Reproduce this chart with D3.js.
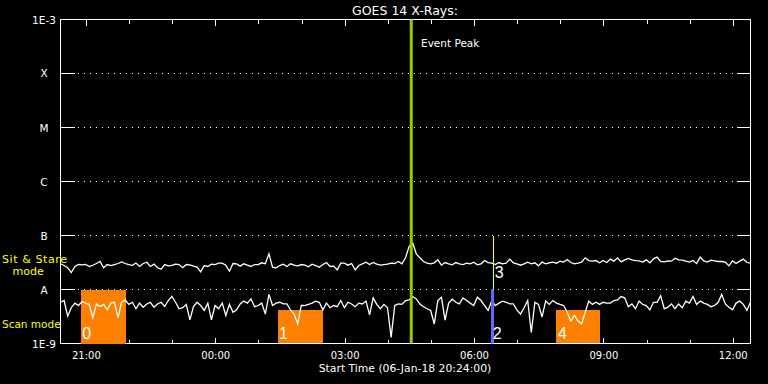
<!DOCTYPE html>
<html><head><meta charset="utf-8">
<script src="https://cdn.jsdelivr.net/npm/d3@7"></script>
<style>html,body{margin:0;padding:0;background:#000;} svg{display:block;}</style>
</head><body>
<svg id="c" width="768" height="384"></svg>
<script>
// ---- data ----
const chartTitle = "GOES 14 X-Rays:";
const xAxisTitle = "Start Time (06-Jan-18 20:24:00)";
const startTime = "2018-01-06T20:24:00Z";
const endTime = "2018-01-07T12:24:00Z";
const sampleMinutes = 5;
// X-ray flux in units of 1e-9 W/m^2, 5-minute samples from start time
const sitStare = [
30, 27.8, 25.3, 20.6, 26.7, 29.0, 28.6, 29.0, 26.7, 28.1,
30.3, 33.0, 25.3, 29.0, 27.8, 29.0, 30.3, 32.5, 30.3, 29.0,
28.1, 31.0, 26.7, 30.3, 32.0, 26.7, 29.5, 25.3, 23.8, 29.0,
27.4, 28.1, 29.5, 29.0, 25.3, 29.0, 28.6, 27.0, 25.9, 21.2,
27.8, 26.7, 29.5, 29.0, 30.7, 30.7, 28.1, 21.8, 30.3,
29.9, 27.1, 29.9, 28.2, 26.7, 29.0, 29.0, 31.2, 29.9, 45.8,
25.9, 25.2, 27.8, 29.5, 26.7, 29.9, 28.2, 27.4, 29.0, 28.2,
26.3, 29.5, 27.8, 25.9, 29.0, 31.6, 26.7, 27.1, 23.1, 30.7,
30.7, 28.2, 30.3, 23.1, 27.8, 29.9, 32.1, 29.0, 31.6, 29.5,
28.2, 29.0, 29.5, 30.7, 30.3, 33.0, 29.9, 38.6,
62.5, 73, 45.8, 38.6, 33.0, 30.7, 29.9, 31.2, 35.5, 28.2,
31.6, 29.9, 28.6, 31.6, 29.9, 29.0, 30.7, 29.9, 32.1, 28.6,
29.9, 34.4, 31.6, 30.7, 29.0, 31.6, 29.9, 30.7, 36.5, 31.2,
29.9, 28.2, 29.9, 32.1, 29.9, 31.2, 27.4, 32.1, 29.9, 31.2,
32.1, 30.7, 33.5, 32.1, 35.9, 31.6, 29.9, 30.7,
32.1, 38.6, 34.4, 33.5, 34.4, 31.2, 34.4, 31.6, 36.5, 33.5,
38.6, 32.5, 35.4, 37.5, 35.4, 34.4, 33.9, 32.1, 35.4, 31.2,
37.0, 39.7, 33.0, 32.5, 33.9, 33.5, 38.0, 35.4, 34.9, 33.5,
32.1, 34.4, 30.3, 39.7, 33.9, 32.1, 34.9, 33.9, 33.0, 33.0,
32.1, 27.4, 33.9, 30.3, 33.5, 36.5, 31.6, 30.7
];
const scanMode = [
5.8, 6.25, 3.2, 4.6, 5.6, 5.05, 6.0, 5.6, 5.3, 3.0,
5.4, 4.85, 5.3, 4.2, 5.6, 5.8, 3.0, 5.8, 6.4, 5.3,
5.8, 4.4, 5.6, 4.7, 5.4, 5.8, 4.7, 5.4, 5.8, 4.85,
6.25, 7.5, 5.8, 4.4, 4.6, 5.3, 2.75, 4.85, 5.8, 5.05,
4.1, 5.6, 2.75, 5.05, 4.4, 5.6, 3.3, 5.3, 3.8,
4.2, 5.4, 6.1, 5.6, 6.7, 4.8, 5.05, 5.6, 3.5, 8.1,
5.05, 5.6, 5.8, 5.4, 5.4, 4.2, 3.5, 2.3, 5.05, 5.05,
5.3, 5.6, 6.1, 5.8, 4.2, 5.6, 4.6, 5.05, 4.8, 6.25,
4.6, 5.8, 5.4, 4.8, 5.6, 5.4, 6.1, 3.4, 7.0, 5.3,
4.4, 5.3, 4.6, 1.3, 5.05, 5.4, 5.3, 6.25,
6.4, 7.4, 6.7, 5.4, 4.8, 4.4, 4.1, 2.3, 6.25, 7.2,
2.7, 5.6, 6.6, 5.8, 5.4, 7.0, 6.25, 5.6, 5.05, 7.2,
6.25, 5.05, 4.1, 6.25, 5.05, 5.6, 6.1, 5.8, 5.4, 5.4,
4.2, 3.5, 4.6, 6.25, 1.6, 5.8, 5.3, 3.1, 6.1, 5.3,
6.25, 5.6, 5.3, 5.05, 3.8, 2.6, 3.3, 2.6,
2.3, 3.8, 6.1, 5.3, 5.8, 5.3, 5.8, 5.6, 5.6, 6.25,
6.4, 7.4, 7.0, 4.8, 5.4, 4.4, 6.1, 5.3, 5.05, 4.2,
5.8, 5.8, 7.7, 4.4, 4.7, 5.4, 4.4, 5.4, 4.6, 6.1,
5.6, 7.4, 5.3, 6.1, 5.6, 5.3, 4.8, 5.05, 5.8, 8.1,
5.4, 4.7, 4.2, 5.6, 6.1, 5.3, 4.1, 5.8
];
const levelValues = [1e-9, 1e-8, 1e-7, 1e-6, 1e-5, 1e-4, 1e-3];
const levelLabels = ["1E-9", "A", "B", "C", "M", "X", "1E-3"];
const scanLabels = ["0", "1", "4"];
const scanStarts = ["2018-01-06T20:52:00Z", "2018-01-07T01:26:00Z", "2018-01-07T07:54:00Z"];
const scanEnds = ["2018-01-06T21:54:00Z", "2018-01-07T02:29:00Z", "2018-01-07T08:55:00Z"];
const scanTops = [1e-8, 4.1e-9, 4.1e-9];
const eventPeakTime = "2018-01-07T04:32:00Z";
const eventPeakLabel = "Event Peak";
const markerTime = "2018-01-07T06:26:00Z";
const markerLabels = ["2", "3"];
const modeLabels = ["Sit & Stare", "mode", "Scan mode"];

// ---- drawing ----
const svg = d3.select("#c");
svg.append("rect").attr("width", 768).attr("height", 384).attr("fill", "#000");
const L = 60.5, R = 750.5, T = 19.5, B = 343.5;
const t0 = new Date(startTime), t1 = new Date(endTime);
const x = d3.scaleUtc().domain([t0, t1]).range([L, R]);
const y = d3.scaleLog().domain([1e-9, 1e-3]).range([B, T]);
const FONT = "DejaVu Sans, sans-serif";
const NUMFONT = "Liberation Sans, sans-serif";
const timeAt = i => new Date(t0.getTime() + i * sampleMinutes * 60000);
const snap = v => Math.round(v - 0.5) + 0.5;

// grid + y ticks
levelValues.forEach((v, k) => {
  const yy = snap(y(v));
  if (k > 0 && k < levelValues.length - 1) {
    svg.append("line").attr("x1", 78).attr("x2", 736).attr("y1", yy).attr("y2", yy)
      .attr("stroke", "#fff").attr("stroke-width", 1).attr("stroke-dasharray", "1,5")
      .attr("shape-rendering", "crispEdges");
  }
  svg.append("line").attr("x1", L).attr("x2", L + 14).attr("y1", yy).attr("y2", yy)
    .attr("stroke", "#fff").attr("shape-rendering", "crispEdges");
  svg.append("line").attr("x1", R - 14).attr("x2", R).attr("y1", yy).attr("y2", yy)
    .attr("stroke", "#fff").attr("shape-rendering", "crispEdges");
  svg.append("text").attr("x", 44).attr("y", Math.round(y(v)) + 4).attr("text-anchor", "middle")
    .attr("fill", "#ffffff").attr("font-family", FONT).attr("font-size", 10.5)
    .text(levelLabels[k]);
});

// x ticks
const hours = x.ticks(d3.utcHour.every(1));
const fmt = d3.utcFormat("%H:%M");
hours.forEach(h => {
  const xx = snap(x(h));
  const major = h.getUTCHours() % 3 === 0;
  const len = major ? 6 : 4;
  svg.append("line").attr("x1", xx).attr("x2", xx).attr("y1", B).attr("y2", B - len)
    .attr("stroke", "#fff").attr("shape-rendering", "crispEdges");
  svg.append("line").attr("x1", xx).attr("x2", xx).attr("y1", T).attr("y2", T + len)
    .attr("stroke", "#fff").attr("shape-rendering", "crispEdges");
  if (major) {
    svg.append("text").attr("x", x(h)).attr("y", 359).attr("text-anchor", "middle")
      .attr("fill", "#fff").attr("font-family", FONT).attr("font-size", 10)
      .text(fmt(h));
  }
});

// frame
svg.append("rect").attr("x", L).attr("y", T).attr("width", R - L).attr("height", B - T)
  .attr("fill", "none").attr("stroke", "#fff").attr("shape-rendering", "crispEdges");

// titles
svg.append("text").attr("x", 405).attr("y", 14.5).attr("text-anchor", "middle")
  .attr("fill", "#fff").attr("font-family", FONT).attr("font-size", 12.5).text(chartTitle);
svg.append("text").attr("x", 405).attr("y", 372).attr("text-anchor", "middle")
  .attr("fill", "#fff").attr("font-family", FONT).attr("font-size", 10.8).text(xAxisTitle);

// scan windows
scanLabels.forEach((lab, k) => {
  const xs = x(new Date(scanStarts[k])), xe = x(new Date(scanEnds[k]));
  svg.append("rect").attr("x", Math.round(xs)).attr("y", Math.round(y(scanTops[k])))
    .attr("width", Math.round(xe - xs)).attr("height", Math.round(B - y(scanTops[k])))
    .attr("fill", "#ff8000");
  svg.append("text").attr("x", xs + 1.5).attr("y", 339).attr("fill", "#fff")
    .attr("font-family", NUMFONT).attr("font-size", 16).text(lab);
});

// data lines
const line = d3.line().x((d, i) => x(timeAt(i))).y(d => y(d * 1e-9));
[sitStare, scanMode].forEach(arr => {
  svg.append("path").attr("d", line(arr)).attr("fill", "none")
    .attr("stroke", "#fff").attr("stroke-width", 1.3).attr("stroke-linejoin", "miter");
});

// event peak
const xp = x(new Date(eventPeakTime));
svg.append("line").attr("x1", xp).attr("x2", xp).attr("y1", T).attr("y2", B)
  .attr("stroke", "#99cc00").attr("stroke-width", 3);
svg.append("text").attr("x", 421).attr("y", 47).attr("fill", "#fff")
  .attr("font-family", FONT).attr("font-size", 10.5).text(eventPeakLabel);

// marker at 06:26
const xm = x(new Date(markerTime));
svg.append("line").attr("x1", snap(xm)).attr("x2", snap(xm)).attr("y1", y(1e-7)).attr("y2", y(1e-8))
  .attr("stroke", "#ffff00").attr("stroke-width", 1).attr("shape-rendering", "crispEdges");
svg.append("rect").attr("x", Math.round(xm) - 2).attr("y", y(1e-8)).attr("width", 3)
  .attr("height", B - y(1e-8)).attr("fill", "#6464ff");
svg.append("text").attr("x", xm - 0.5).attr("y", 338.5).attr("fill", "#fff")
  .attr("font-family", NUMFONT).attr("font-size", 16).text(markerLabels[0]);
svg.append("text").attr("x", xm + 1.5).attr("y", 277.5).attr("fill", "#fff")
  .attr("font-family", NUMFONT).attr("font-size", 16).text(markerLabels[1]);

// mode labels
svg.append("text").attr("x", 2).attr("y", 262.5).attr("fill", "#ffff00")
  .attr("font-family", FONT).attr("font-size", 11).attr("letter-spacing", 0.6).text(modeLabels[0]);
svg.append("text").attr("x", 12.5).attr("y", 275).attr("fill", "#ffff00")
  .attr("font-family", FONT).attr("font-size", 11).text(modeLabels[1]);
svg.append("text").attr("x", 2).attr("y", 328).attr("fill", "#ffff00")
  .attr("font-family", FONT).attr("font-size", 10.5).text(modeLabels[2]);
</script>
</body></html>
